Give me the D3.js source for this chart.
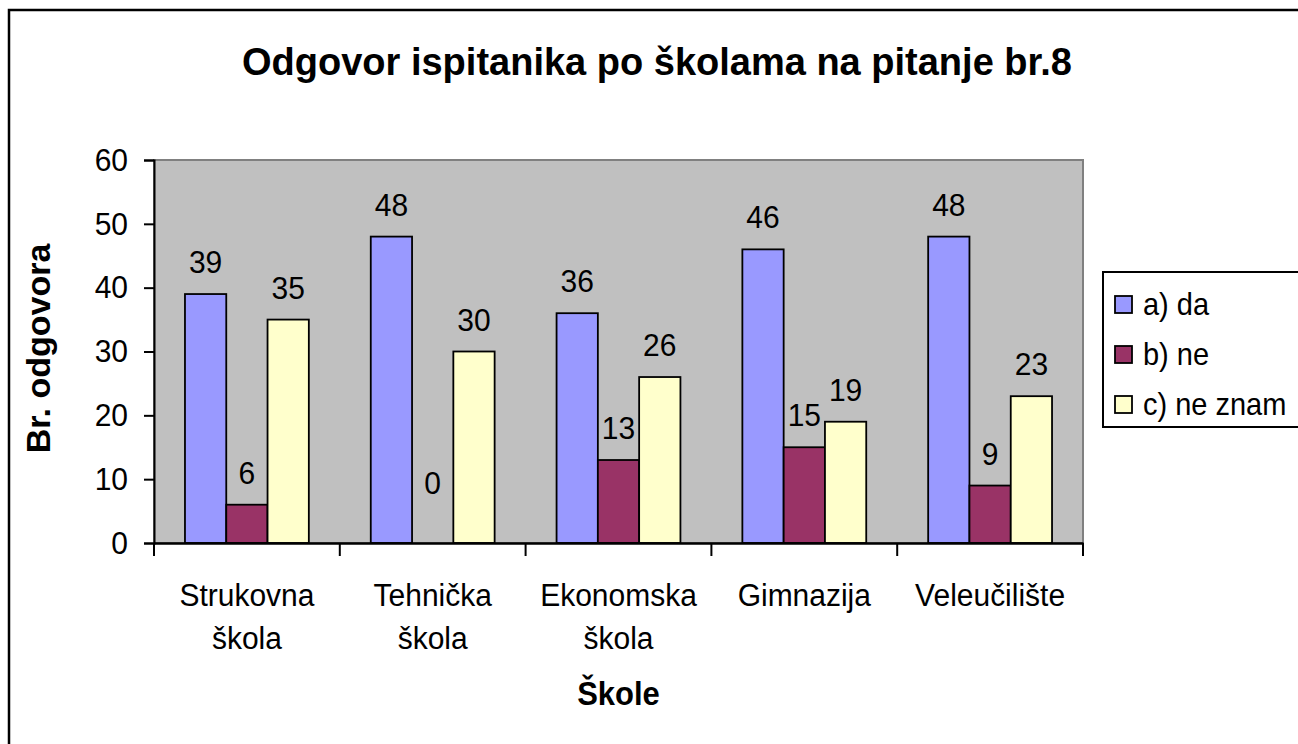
<!DOCTYPE html>
<html>
<head>
<meta charset="utf-8">
<script src="https://cdnjs.cloudflare.com/ajax/libs/d3/7.8.5/d3.min.js"></script>
<style>
  body { margin: 0; background: #fff; }
  svg { display: block; font-family: "Liberation Sans", Arial, sans-serif; }
</style>
</head>
<body>
<div id="chart-area"></div>
<script>
// data
const categories = [["Strukovna", "škola"], ["Tehnička", "škola"], ["Ekonomska", "škola"], ["Gimnazija"], ["Veleučilište"]]
const seriesNames = ["a) da", "b) ne", "c) ne znam"]
const valuesDa = [39, 48, 36, 46, 48]
const valuesNe = [6, 0, 13, 15, 9]
const valuesNeZnam = [35, 30, 26, 19, 23]
const yTicks = [0, 10, 20, 30, 40, 50, 60]

const colors = ["#9999ff", "#993366", "#ffffcc"]
const allValues = [valuesDa, valuesNe, valuesNeZnam]

const W = 1298, H = 744
const PLOT = {LEFT: 154, RIGHT: 1083, TOP: 160, BOTTOM: 543}
const STRETCH = 1.07   // text in the picture is a bit taller than wide

const svg = d3.select("#chart-area").append("svg")
  .attr("width", W)
  .attr("height", H)

// outer chart border (runs off the right and bottom edge)
svg.append("rect")
  .attr("x", 9).attr("y", 10)
  .attr("width", 1320).attr("height", 760)
  .attr("fill", "#fff")
  .attr("stroke", "#000")
  .attr("stroke-width", 2.5)

const catKeys = categories.map(c => c.join(" "))

const x0 = d3.scaleBand()
  .domain(catKeys)
  .range([PLOT.LEFT, PLOT.RIGHT])
  .padding(0)

const x1 = d3.scaleBand()
  .domain(seriesNames)
  .range([0, x0.bandwidth()])
  .paddingInner(0)
  .paddingOuter(0.75)

const y = d3.scaleLinear()
  .domain([0, 60])
  .range([PLOT.BOTTOM, PLOT.TOP])

// plot background
svg.append("rect")
  .attr("x", PLOT.LEFT).attr("y", PLOT.TOP)
  .attr("width", PLOT.RIGHT - PLOT.LEFT)
  .attr("height", PLOT.BOTTOM - PLOT.TOP)
  .attr("fill", "#c0c0c0")
  .attr("stroke", "#808080")
  .attr("stroke-width", 2)

// title
svg.append("text")
  .attr("x", 657).attr("y", 75)
  .attr("text-anchor", "middle")
  .attr("font-size", "38px")
  .attr("font-weight", "bold")
  .text("Odgovor ispitanika po školama na pitanje br.8")

// bars
const rows = []
seriesNames.forEach((s, i) => {
  allValues[i].forEach((v, j) => rows.push({s: s, i: i, cat: catKeys[j], v: v}))
})

svg.append("g").selectAll("rect")
  .data(rows)
  .enter().append("rect")
  .attr("x", d => x0(d.cat) + x1(d.s))
  .attr("y", d => y(d.v))
  .attr("width", x1.bandwidth())
  .attr("height", d => y(0) - y(d.v))
  .attr("fill", d => colors[d.i])
  .attr("stroke", "#000")
  .attr("stroke-width", d => d.v > 0 ? 1.8 : 0)

// data labels
svg.append("g").selectAll("text")
  .data(rows)
  .enter().append("text")
  .attr("transform", d => {
    const lx = x0(d.cat) + x1(d.s) + x1.bandwidth() / 2
    const ly = Math.min(y(d.v) - 21, y(0) - 49)
    return `translate(${lx},${ly}) scale(1,${STRETCH})`
  })
  .attr("text-anchor", "middle")
  .attr("font-size", "30px")
  .text(d => d.v)

// y axis
const yAxis = svg.append("g")
  .attr("transform", `translate(${PLOT.LEFT},0)`)
  .call(d3.axisLeft(y).tickValues(yTicks).tickSize(10).tickPadding(16))
yAxis.select(".domain").attr("stroke", "#000").attr("stroke-width", 2)
yAxis.selectAll(".tick line").attr("stroke", "#000").attr("stroke-width", 2)
yAxis.selectAll(".tick text")
  .attr("font-size", "30px")
  .attr("font-family", "Liberation Sans, Arial, sans-serif")
  .attr("fill", "#000")
  .attr("transform", `scale(1,${STRETCH})`)

// x axis
const xAxis = svg.append("g")
  .attr("transform", `translate(0,${PLOT.BOTTOM})`)
  .call(d3.axisBottom(x0).tickSize(0).tickFormat(""))
xAxis.select(".domain").attr("stroke", "#000").attr("stroke-width", 2.5)
xAxis.selectAll(".tick").remove()

// category separators
const sep = catKeys.map(c => x0(c)).concat([PLOT.RIGHT])
xAxis.selectAll("line.sep")
  .data(sep)
  .enter().append("line")
  .attr("class", "sep")
  .attr("x1", d => d).attr("x2", d => d)
  .attr("y1", 0).attr("y2", 13)
  .attr("stroke", "#000")
  .attr("stroke-width", 2)

// category labels
const catLabels = svg.append("g").selectAll("text")
  .data(categories)
  .enter().append("text")
  .attr("text-anchor", "middle")
  .attr("font-size", "30px")
  .attr("transform", (d, j) => `translate(${x0(catKeys[j]) + x0.bandwidth() / 2},606) scale(1,${STRETCH})`)

catLabels.selectAll("tspan")
  .data(d => d)
  .enter().append("tspan")
  .attr("x", 0)
  .attr("dy", (d, k) => k === 0 ? 0 : 43 / STRETCH)
  .text(d => d)

// axis titles
svg.append("text")
  .attr("transform", `translate(${(PLOT.LEFT + PLOT.RIGHT) / 2},705) scale(1,${STRETCH})`)
  .attr("text-anchor", "middle")
  .attr("font-size", "31px")
  .attr("font-weight", "bold")
  .text("Škole")

svg.append("text")
  .attr("transform", `translate(50,${(PLOT.TOP + PLOT.BOTTOM) / 2 - 3}) rotate(-90)`)
  .attr("text-anchor", "middle")
  .attr("font-size", "34px")
  .attr("font-weight", "bold")
  .text("Br. odgovora")

// legend
const legend = svg.append("g")
legend.append("rect")
  .attr("x", 1103).attr("y", 272)
  .attr("width", 230).attr("height", 155)
  .attr("fill", "#fff")
  .attr("stroke", "#000")
  .attr("stroke-width", 2)

const items = legend.selectAll("g.item")
  .data(seriesNames)
  .enter().append("g")
  .attr("class", "item")
  .attr("transform", (d, i) => `translate(1115,${305 + i * 50})`)

items.append("rect")
  .attr("x", 0).attr("y", -9)
  .attr("width", 17).attr("height", 17)
  .attr("fill", (d, i) => colors[i])
  .attr("stroke", "#000")
  .attr("stroke-width", 1.8)

items.append("text")
  .attr("transform", `translate(28,10) scale(1,${STRETCH})`)
  .attr("font-size", "29px")
  .text(d => d)
</script>
</body>
</html>
